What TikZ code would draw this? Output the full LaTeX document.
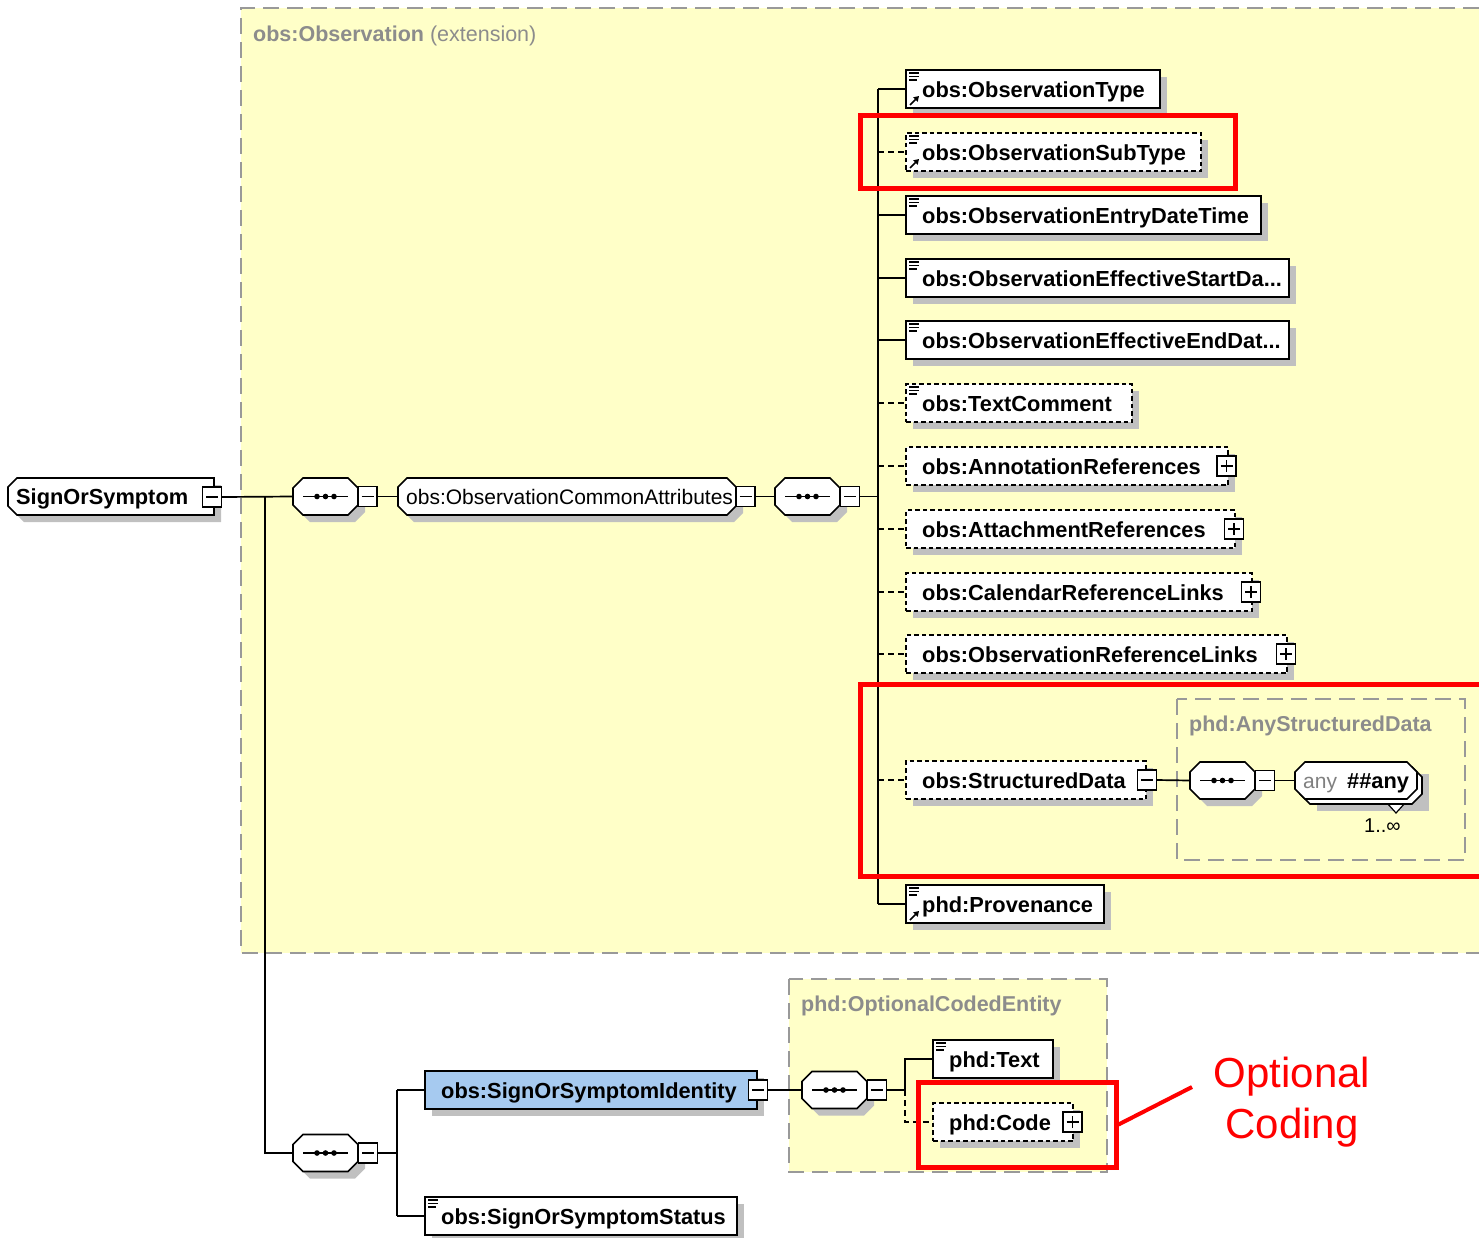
\documentclass[tikz,border=0pt]{standalone}
\usepackage{fontspec}
\setmainfont{Liberation Sans}
\usetikzlibrary{shadows,calc,arrows.meta}
\definecolor{yel}{HTML}{FFFFC8}
\definecolor{shadowc}{HTML}{C0C0C0}
\definecolor{cbord}{HTML}{999999}
\definecolor{ctitle}{HTML}{8C8C8C}
\definecolor{idblue}{HTML}{A6CAF0}
\definecolor{redann}{HTML}{FF0000}
\tikzset{
 lw/.style={line width=1.7pt},
 elem/.style={draw, lw, fill=white, minimum height=38pt, inner sep=0pt, outer sep=0pt, anchor=west,
   general shadow={fill=shadowc, shadow xshift=7pt, shadow yshift=-7pt}},
 optdash/.style={dash pattern=on 4.5pt off 3pt},
 optel/.style={elem, optdash},
 idel/.style={elem, fill=idblue},
 shp/.style={inner sep=0pt, outer sep=0pt, minimum height=37pt},
 pm/.style={draw, lw, fill=white, minimum width=19pt, minimum height=20pt, inner sep=0pt, outer sep=0pt},
 lbl/.style={anchor=base west, inner sep=0pt, font=\fontsize{21.8}{25}\selectfont\bfseries},
 lblr/.style={anchor=base west, inner sep=0pt, font=\fontsize{21}{25}\selectfont},
 ttl/.style={anchor=base west, inner sep=0pt, text=ctitle, font=\fontsize{21.5}{25}\selectfont\bfseries},
 cont/.style={draw=cbord, line width=1.6pt, dash pattern=on 16pt off 8pt},
 conn/.style={lw},
 dconn/.style={lw, dash pattern=on 6pt off 4pt},
 redb/.style={draw=redann, line width=5pt},
}
\newcommand\octS[4]{%
\fill[shadowc] ([xshift=#2+7pt,yshift=-7pt]#1.north west) -- ([xshift=-#3+7pt,yshift=-7pt]#1.north east) -- ([xshift=7pt,yshift=-#3-7pt]#1.north east) -- ([xshift=7pt,yshift=#3-7pt]#1.south east) -- ([xshift=-#3+7pt,yshift=-7pt]#1.south east) -- ([xshift=#2+7pt,yshift=-7pt]#1.south west) -- ([xshift=7pt,yshift=#2-7pt]#1.south west) -- ([xshift=7pt,yshift=-#2-7pt]#1.north west) -- cycle;
\octN{#1}{#2}{#3}{#4}}
\newcommand\octN[4]{%
\draw[lw,fill=#4] ([xshift=#2]#1.north west) -- ([xshift=-#3]#1.north east) -- ([yshift=-#3]#1.north east) -- ([yshift=#3]#1.south east) -- ([xshift=-#3]#1.south east) -- ([xshift=#2]#1.south west) -- ([yshift=#2]#1.south west) -- ([yshift=-#2]#1.north west) -- cycle;}
\newcommand\seqsym[1]{%
\draw[line width=1.5pt] ([xshift=10pt]#1.west) -- ([xshift=-10pt]#1.east);
\fill ([xshift=-8.5pt]#1.center) circle (2.8pt) (#1.center) circle (2.8pt) ([xshift=8.5pt]#1.center) circle (2.8pt);}
\newcommand\pmMinus[1]{\draw[line width=1.5pt] ([xshift=-6pt]#1.center) -- ([xshift=6pt]#1.center);}
\newcommand\pmPlus[1]{\pmMinus{#1}\draw[line width=1.5pt] ([yshift=-6pt]#1.center) -- ([yshift=6pt]#1.center);}
\newcommand\docicon[1]{%
\draw[line width=1.1pt] ([xshift=3pt,yshift=-3pt]#1.north west) -- ++(10,0)
 ([xshift=3pt,yshift=-6.5pt]#1.north west) -- ++(10,0)
 ([xshift=3pt,yshift=-10pt]#1.north west) -- ++(8,0);}
\newcommand\refarrow[1]{\draw[line width=1.7pt,-{Triangle[length=5pt,width=6pt]}] ([xshift=4pt,yshift=3pt]#1.south west) -- ++(9,-9);}
\newcommand\elm[6]{%
\node[#2, minimum width=#5pt] (#1) at (#3,#4) {};
\node[lbl] (#1-t) at (#3+16,#4+8) {#6};}
\begin{document}
\begin{tikzpicture}[x=1pt,y=-1pt]
\useasboundingbox (0,0) rectangle (1479,1237);
% containers
\fill[yel] (241,8) rectangle (1479,953);
\draw[cont] (1479,8) -- (241,8) -- (241,953) -- (1479,953);
\node[ttl] (obsT) at (253,41) {obs:Observation \textmd{(extension)}};
\draw[cont, fill=yel] (789,979) rectangle (1107,1172);
\node[ttl] (oceT) at (801,1011) {phd:OptionalCodedEntity};
\draw[cont] (1177,699) rectangle (1465,860);
\node[ttl] (asdT) at (1189,731) {phd:AnyStructuredData};
% shape holders
\node[shp, minimum width=206pt] (sos) at (111,496.5) {};
\node[shp, minimum width=65pt] (seq1) at (325.5,496.5) {};
\node[shp, minimum width=338pt] (oca) at (567,496.5) {};
\node[shp, minimum width=65pt] (seq2) at (807.5,496.5) {};
\node[shp, minimum width=65pt] (seq3) at (1222.5,780.5) {};
\node[shp, minimum width=122pt] (anyb) at (1361,785.5) {};
\node[shp, minimum width=122pt] (any) at (1356,780.5) {};
\node[shp, minimum width=65pt] (seq4) at (325.5,1153) {};
\node[shp, minimum width=65pt] (seq5) at (834.5,1090) {};
\octS{sos}{9pt}{0pt}{white}
\octS{seq1}{10pt}{10pt}{white}
\octS{oca}{9pt}{9pt}{white}
\octS{seq2}{10pt}{10pt}{white}
\octS{seq3}{10pt}{10pt}{white}
\fill[shadowc] ([xshift=17pt,yshift=-7pt]anyb.south west) rectangle ([xshift=7pt,yshift=-7pt]anyb.north east);
\draw[line width=1.2pt, fill=white] (1387,803) -- (1405,803) -- (1396,813) -- cycle;
\octN{anyb}{10pt}{10pt}{white}
\octN{any}{10pt}{10pt}{white}
\octS{seq4}{10pt}{10pt}{white}
\octS{seq5}{10pt}{10pt}{white}
\seqsym{seq1}\seqsym{seq2}\seqsym{seq3}\seqsym{seq4}\seqsym{seq5}
\node[lbl] (sos-t) at (16,504) {SignOrSymptom};
\node[lblr] (oca-t) at (406,504) {obs:ObservationCommonAttributes};
\node[lblr, text=gray] (any-a) at (1303,788) {any};
\node[lbl] (any-b) at (1347,788) {\#\#any};
\node[lblr, font=\fontsize{20}{22}\selectfont] (mult) at (1364,832) {1..∞};
% elements
\elm{ot}{elem}{906}{89}{254}{obs:ObservationType}
\elm{ost}{optel}{906}{152}{295}{obs:ObservationSubType}
\elm{oedt}{elem}{906}{215}{355}{obs:ObservationEntryDateTime}
\elm{oesd}{elem}{906}{278}{383}{obs:ObservationEffectiveStartDa...}
\elm{oeed}{elem}{906}{340}{383}{obs:ObservationEffectiveEndDat...}
\elm{tc}{optel}{906}{403}{226}{obs:TextComment}
\elm{ar}{optel}{906}{466}{322}{obs:AnnotationReferences}
\elm{atr}{optel}{906}{529}{329}{obs:AttachmentReferences}
\elm{crl}{optel}{906}{592}{346}{obs:CalendarReferenceLinks}
\elm{orl}{optel}{906}{654}{381}{obs:ObservationReferenceLinks}
\elm{sd}{optel}{906}{780}{240}{obs:StructuredData}
\elm{prov}{elem}{906}{904}{198}{phd:Provenance}
\elm{ssi}{idel}{425}{1090}{332}{obs:SignOrSymptomIdentity}
\elm{sss}{elem}{425}{1216}{312}{obs:SignOrSymptomStatus}
\elm{txt}{elem}{933}{1059}{120}{phd:Text}
\elm{code}{optel}{933}{1122}{140}{phd:Code}
% plus / minus boxes
\node[pm] (sosm) at (212,497) {}; \pmMinus{sosm}
\node[pm] (seq1m) at (367.5,496.5) {}; \pmMinus{seq1m}
\node[pm] (ocam) at (745.5,496.5) {}; \pmMinus{ocam}
\node[pm] (seq2m) at (850,496.5) {}; \pmMinus{seq2m}
\node[pm] (arp) at (1226.5,466) {}; \pmPlus{arp}
\node[pm] (atrp) at (1234,529) {}; \pmPlus{atrp}
\node[pm] (crlp) at (1251,592) {}; \pmPlus{crlp}
\node[pm] (orlp) at (1286,654) {}; \pmPlus{orlp}
\node[pm] (sdm) at (1147,780) {}; \pmMinus{sdm}
\node[pm] (seq3m) at (1265,780.5) {}; \pmMinus{seq3m}
\node[pm] (seq4m) at (368,1153) {}; \pmMinus{seq4m}
\node[pm] (ssim) at (758,1090) {}; \pmMinus{ssim}
\node[pm] (seq5m) at (877,1090) {}; \pmMinus{seq5m}
\node[pm] (codep) at (1072.5,1122) {}; \pmPlus{codep}
% icons
\docicon{ot}\docicon{ost}\docicon{oedt}\docicon{oesd}\docicon{oeed}\docicon{tc}\docicon{prov}\docicon{txt}\docicon{sss}
\refarrow{ot}\refarrow{ost}\refarrow{prov}
% connectors
\coordinate (j1) at (265,496.5);
\coordinate (bar) at (878,496.5);
\coordinate (bar2) at (397,1153);
\coordinate (bar3) at (905,1090);
\draw[conn] (sosm.east) -- (seq1.west);
\draw[conn] (j1) |- (seq4.west);
\draw[conn] (seq1m.east) -- (oca.west);
\draw[conn] (ocam.east) -- (seq2.west);
\draw[conn] (seq2m.east) -- (bar);
\draw[conn] (bar |- ot.west) -- (bar |- prov.west);
\foreach \n in {ot,oedt,oesd,oeed,prov} {\draw[conn] (bar |- \n.west) -- (\n.west);}
\foreach \n in {ost,tc,ar,atr,crl,orl,sd} {\draw[dconn] (bar |- \n.west) -- (\n.west);}
\draw[conn] (sdm.east) -- (seq3.west);
\draw[conn] (seq3m.east) -- (any.west);
\draw[conn] (seq4m.east) -- (bar2);
\draw[conn] (bar2 |- ssi.west) -- (bar2 |- sss.west);
\draw[conn] (bar2 |- ssi.west) -- (ssi.west);
\draw[conn] (bar2 |- sss.west) -- (sss.west);
\draw[conn] (ssim.east) -- (seq5.west);
\draw[conn] (seq5m.east) -- (bar3);
\draw[conn] (bar3) -- (bar3 |- txt.west) -- (txt.west);
\draw[dconn] (bar3) -- (bar3 |- code.west) -- (code.west);
% red annotations
\draw[redb] (860,115) rectangle (1235,188);
\draw[redb] (1481,684) -- (860,684) -- (860,876) -- (1481,876);
\node[redb, minimum width=198pt, minimum height=85pt, inner sep=0pt] (rcode) at (1017,1124.5) {};
\coordinate (rtip) at (1192,1087);
\draw[draw=redann, line width=4pt] (rcode.east) -- (rtip);
\node[text=redann, font=\fontsize{42}{51}\selectfont, align=center, inner sep=0pt] (optc) at (1292,1102) {Optional\\Coding};
\end{tikzpicture}
\end{document}
